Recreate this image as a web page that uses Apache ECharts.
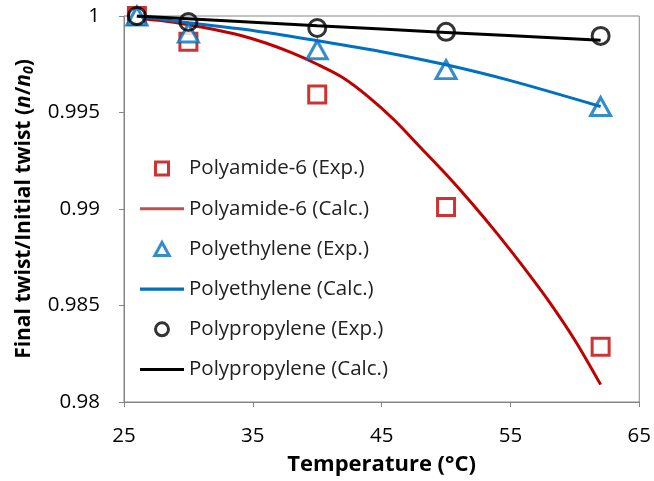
<!DOCTYPE html>
<html><head><meta charset="utf-8">
<script src="https://cdn.jsdelivr.net/npm/echarts@6/dist/echarts.min.js"></script>
<style>html,body{margin:0;padding:0;background:#fff}#c{width:654px;height:481px}</style>
</head><body><div id="c"></div>
<script>
const temps = [26, 30, 40, 50, 62];
const pa6Exp = [1.0, 0.99866, 0.99593, 0.99010, 0.98286];
const peExp = [1.0, 0.99912, 0.99825, 0.99722, 0.99531];
const ppExp = [1.0, 0.99969, 0.99938, 0.99918, 0.99897];

const pa6CalcT = [26, 28, 30, 32, 34, 36, 38, 40, 42, 44, 46, 48, 50, 52, 54, 56, 58, 60, 62];
const pa6Calc = [0.9999, 0.99975, 0.99955, 0.9993, 0.999, 0.9986, 0.9981, 0.9975, 0.9968, 0.9958, 0.9946, 0.9932, 0.9918, 0.9903, 0.9887, 0.9870, 0.9852, 0.9832, 0.9809];
const peCalcT = [26, 30, 35, 40, 45, 50, 55, 62];
const peCalc = [1.0, 0.99965, 0.99925, 0.99872, 0.99815, 0.99747, 0.99665, 0.99531];
const ppCalcT = [26, 40, 50, 62];
const ppCalc = [1.0, 0.99950, 0.99915, 0.99874];

const xTicks = [25, 35, 45, 55, 65];
const yTicks = [0.98, 0.985, 0.99, 0.995, 1];

const zip = (a, b) => a.map((v, i) => [v, b[i]]);
const FONT = '"Open Sans", "Noto Sans", sans-serif';
const RED = '#C00000', BLUE = '#0070C0', BLACK = '#000000';
const ICON_SQUARE = 'path://M0,0H10V10H0Z';
const ICON_TRI = 'path://M5,0L10,9L0,9Z';
const ICON_CIRC = 'path://M10,5A5,5,0,1,1,0,5A5,5,0,1,1,10,5Z';
const ICON_LINE = 'path://M0,0H100V7H0Z';

const chart = echarts.init(document.getElementById('c'));
chart.setOption({
  animation: false,
  textStyle: { fontFamily: FONT },
  grid: { left: 124, right: 13, top: 16, bottom: 78, show: true, borderColor: '#868686', borderWidth: 1 },
  legend: {
    orient: 'vertical', left: 135, top: 153,
    itemWidth: 44, itemHeight: 13, itemGap: 19.2,
    symbolKeepAspect: true,
    textStyle: { fontSize: 20.5, color: '#222', fontFamily: FONT },
    data: [
      { name: 'Polyamide-6 (Exp.)', icon: ICON_SQUARE, itemStyle: { color: '#fff', borderColor: RED, borderWidth: 3 } },
      { name: 'Polyamide-6 (Calc.)', icon: ICON_LINE, itemStyle: { color: '#C0504D', borderWidth: 0 } },
      { name: 'Polyethylene (Exp.)', icon: ICON_TRI, itemStyle: { color: '#fff', borderColor: BLUE, borderWidth: 3 } },
      { name: 'Polyethylene (Calc.)', icon: ICON_LINE, itemStyle: { color: BLUE, borderWidth: 0 } },
      { name: 'Polypropylene (Exp.)', icon: ICON_CIRC, itemStyle: { color: '#fff', borderColor: BLACK, borderWidth: 3 } },
      { name: 'Polypropylene (Calc.)', icon: ICON_LINE, itemStyle: { color: BLACK, borderWidth: 0 } }
    ]
  },
  xAxis: {
    type: 'value', min: xTicks[0], max: xTicks[xTicks.length - 1], interval: 10,
    name: 'Temperature (°C)', nameLocation: 'middle', nameGap: 52,
    nameTextStyle: { fontSize: 22, fontWeight: 'bold', color: '#000', fontFamily: FONT },
    axisLine: { lineStyle: { color: '#868686' } },
    axisTick: { show: true, length: 5, lineStyle: { color: '#868686' } },
    axisLabel: { fontSize: 20.5, color: '#000', margin: 24 },
    splitLine: { show: false }
  },
  yAxis: {
    type: 'value', min: yTicks[0], max: yTicks[yTicks.length - 1], interval: 0.005,
    nameLocation: 'middle', nameGap: 88,
    name: '{b|Final twist/Initial twist (}{i|n}{b|/}{i|n}{s|0}{b|)}',
    nameTextStyle: {
      rich: {
        b: { fontSize: 21, fontWeight: 'bold', color: '#000', fontFamily: FONT },
        i: { fontSize: 21, fontWeight: 'bold', fontStyle: 'italic', color: '#000', fontFamily: FONT },
        s: { fontSize: 14, fontWeight: 'bold', fontStyle: 'italic', color: '#000', fontFamily: FONT, verticalAlign: 'bottom', padding: [10, 0, 0, 0] }
      }
    },
    axisLine: { show: true, lineStyle: { color: '#868686' } },
    axisTick: { show: true, length: 5, lineStyle: { color: '#868686' } },
    axisLabel: { fontSize: 20.5, color: '#000', margin: 24, formatter: v => String(parseFloat(v.toFixed(3))) },
    splitLine: { show: false }
  },
  series: [
    { name: 'Polyamide-6 (Exp.)', type: 'scatter', data: zip(temps, pa6Exp), symbol: 'rect', symbolSize: 17,
      itemStyle: { color: '#fff', borderColor: RED, borderWidth: 3 }, z: 3 },
    { name: 'Polyamide-6 (Calc.)', type: 'line', data: zip(pa6CalcT, pa6Calc), smooth: 0.3, symbol: 'none',
      lineStyle: { color: RED, width: 3 }, itemStyle: { color: '#C0504D' }, z: 2 },
    { name: 'Polyethylene (Exp.)', type: 'scatter', data: zip(temps, peExp), symbol: 'triangle', symbolSize: [20, 18],
      itemStyle: { color: '#fff', borderColor: BLUE, borderWidth: 3 }, z: 3 },
    { name: 'Polyethylene (Calc.)', type: 'line', data: zip(peCalcT, peCalc), smooth: 0.3, symbol: 'none',
      lineStyle: { color: BLUE, width: 3 }, itemStyle: { color: BLUE }, z: 4 },
    { name: 'Polypropylene (Exp.)', type: 'scatter', data: zip(temps, ppExp), symbol: 'circle', symbolSize: 17,
      itemStyle: { color: 'rgba(255,255,255,0)', borderColor: BLACK, borderWidth: 3 }, z: 5 },
    { name: 'Polypropylene (Calc.)', type: 'line', data: zip(ppCalcT, ppCalc), smooth: 0.3, symbol: 'none',
      lineStyle: { color: BLACK, width: 3 }, itemStyle: { color: BLACK }, z: 6 }
  ]
});
</script></body></html>
